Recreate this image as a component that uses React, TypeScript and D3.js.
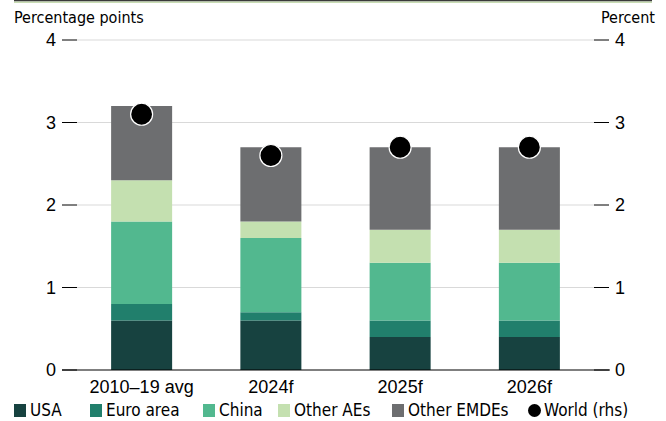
import React from "react";
import * as d3 from "d3";

const categories = ["2010–19 avg", "2024f", "2025f", "2026f"];
const seriesNames = ["USA", "Euro area", "China", "Other AEs", "Other EMDEs"];
const usa = [0.6, 0.6, 0.4, 0.4];
const euroArea = [0.2, 0.1, 0.2, 0.2];
const china = [1.0, 0.9, 0.7, 0.7];
const otherAEs = [0.5, 0.2, 0.4, 0.4];
const otherEMDEs = [0.9, 0.9, 1.0, 1.0];
const world = [3.1, 2.6, 2.7, 2.7];
const yTicks = [0, 1, 2, 3, 4];
const colors = ["#174240", "#217f6c", "#52b88f", "#c4e0b0", "#6d6e70"];

const W = 666;
const H = 421;
const left = 77;
const right = 594;
const top = 40;
const bottom = 370;

export default function App() {
  const seriesValues = [usa, euroArea, china, otherAEs, otherEMDEs];
  const rows = categories.map((c, i) => {
    const r: any = { cat: c };
    seriesNames.forEach((s, j) => (r[s] = seriesValues[j][i]));
    return r;
  });
  const stack = d3.stack<any>().keys(seriesNames)(rows);
  const x = d3.scaleBand<string>().domain(categories).range([left, right]).paddingInner(0.528).paddingOuter(0.264);
  const y = d3.scaleLinear().domain([0, 4]).range([bottom, top]);
  const yR = d3.scaleLinear().domain([0, 4]).range([bottom, top]);
  const condensed = "'DejaVu Sans Condensed', 'Liberation Sans Narrow', sans-serif";
  const arial = "'Liberation Sans', Arial, sans-serif";

  const legend = [
    { label: "USA", x: 14, color: colors[0], type: "rect" },
    { label: "Euro area", x: 90, color: colors[1], type: "rect" },
    { label: "China", x: 203, color: colors[2], type: "rect" },
    { label: "Other AEs", x: 278, color: colors[3], type: "rect" },
    { label: "Other EMDEs", x: 392, color: colors[4], type: "rect" },
    { label: "World (rhs)", x: 528, color: "#000", type: "circle" },
  ];

  return (
    <svg width={W} height={H} style={{ position: "absolute", left: 0, top: 0, background: "#fff" }}>
      <rect x={14} y={0} width={638} height={1.5} fill="#3a3a3a" />
      <rect x={14} y={1.5} width={638} height={1.5} fill="#c8dcb4" />
      <text x={14} y={23} fontFamily={condensed} fontSize={16} fill="#000">Percentage points</text>
      <text x={655} y={23} textAnchor="end" fontFamily={condensed} fontSize={16} fill="#000">Percent</text>

      {yTicks.map((t) => (
        <g key={"g" + t}>
          {t !== 0 && (
            <line x1={left} x2={right} y1={y(t)} y2={y(t)} stroke="#d9d9d9" strokeWidth={1} />
          )}
          <line x1={62} x2={left} y1={y(t)} y2={y(t)} stroke="#000" strokeWidth={1} />
          <line x1={right} x2={609} y1={yR(t)} y2={yR(t)} stroke="#000" strokeWidth={1} />
          <text x={56} y={y(t)} dy="0.35em" textAnchor="end" fontFamily={arial} fontSize={18}>{t}</text>
          <text x={615} y={yR(t)} dy="0.35em" textAnchor="start" fontFamily={arial} fontSize={18}>{t}</text>
        </g>
      ))}

      {stack.map((s, j) =>
        s.map((d, i) => (
          <rect
            key={j + "-" + i}
            x={x(categories[i])}
            width={x.bandwidth()}
            y={y(d[1])}
            height={y(d[0]) - y(d[1])}
            fill={colors[j]}
          />
        ))
      )}

      <line x1={62} x2={610} y1={y(0)} y2={y(0)} stroke="#000" strokeWidth={1.2} />

      {categories.map((c, i) => (
        <circle
          key={"w" + i}
          cx={(x(c) as number) + x.bandwidth() / 2}
          cy={yR(world[i])}
          r={11}
          fill="#000"
          stroke="#fff"
          strokeWidth={1.2}
        />
      ))}

      {categories.map((c) => (
        <text
          key={"c" + c}
          x={(x(c) as number) + x.bandwidth() / 2}
          y={393}
          textAnchor="middle"
          fontFamily={arial}
          fontSize={18}
        >
          {c}
        </text>
      ))}

      {legend.map((l) => (
        <g key={l.label}>
          {l.type === "rect" ? (
            <rect x={l.x} y={404} width={12} height={13} fill={l.color} />
          ) : (
            <circle cx={l.x + 6.5} cy={410.5} r={6.5} fill="#000" />
          )}
          <text x={l.x + 16} y={416} fontFamily={condensed} fontSize={17} fill="#000">{l.label}</text>
        </g>
      ))}
    </svg>
  );
}
